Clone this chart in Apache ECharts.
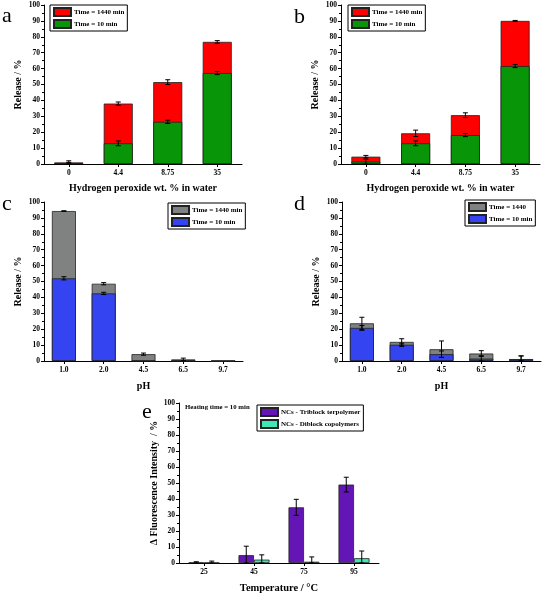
<!DOCTYPE html>
<html><head><meta charset="utf-8">
<script src="https://cdn.jsdelivr.net/npm/echarts@6/dist/echarts.min.js"></script>
<style>html,body{margin:0;padding:0;background:#fff}#c{width:544px;height:595px}</style>
</head><body><div id="c"></div>
<script>
// ---------- data ----------
const h2o2Cats = ['0', '4.4', '8.75', '35'];
const pHCats = ['1.0', '2.0', '4.5', '6.5', '9.7'];
const tempCats = ['25', '45', '75', '95'];
const yTicks = [0, 10, 20, 30, 40, 50, 60, 70, 80, 90, 100];

// panel a
const a1440 = [1, 38, 51.5, 76.8];
const a1440Err = [1, 1, 1.5, 0.8];
const a10 = [0.5, 13, 26.5, 57.2];
const a10Err = [0.5, 1.5, 1, 1];
// panel b
const b1440 = [4.6, 19.3, 30.7, 90];
const b1440Err = [0.8, 2, 1.5, 0.3];
const b10 = [1.5, 13, 18.2, 61.6];
const b10Err = [1.5, 1.5, 1, 1];
// panel c
const c1440 = [94.3, 48.6, 4.3, 1, 0];
const c1440Err = [0.2, 0.7, 0.7, 0.8, 0];
const c10 = [52, 42.5, 0, 0, 0];
const c10Err = [1, 0.7, 0, 0, 0];
// panel d
const d1440 = [23.7, 12, 7.4, 4.7, 1.2];
const d1440Err = [3.8, 2, 5.2, 1.8, 2];
const d10 = [20.8, 10.2, 4.3, 1.5, 1.2];
const d10Err = [1.5, 1, 2, 1.8, 2];
// panel e
const eTri = [0.3, 4.9, 34.8, 49];
const eTriErr = [0.5, 5.6, 5, 4.6];
const eDi = [0.2, 2.1, 0.8, 3];
const eDiErr = [1, 3, 3, 4.5];

const legendLabels = {
  a1440: 'Time = 1440 min', a10: 'Time = 10 min',
  b1440: 'Time = 1440 min', b10: 'Time = 10 min',
  c1440: 'Time = 1440 min', c10: 'Time = 10 min',
  d1440: 'Time = 1440', d10: 'Time = 10 min',
  eTri: 'NCs - Triblock terpolymer', eDi: 'NCs - Diblock copolymers'
};
const xNames = ['Hydrogen peroxide wt. % in water', 'Hydrogen peroxide wt. % in water', 'pH', 'pH', 'Temperature / °C'];
const yNames = ['Release / %', 'Release / %', 'Release / %', 'Release / %', 'Δ Fluorescence Intensity  / %'];
const panelLetters = ['a', 'b', 'c', 'd', 'e'];
const noteText = 'Heating time = 10 min';

// ---------- styling ----------
const SERIF = '"Liberation Serif", "Times New Roman", serif';
const RED = '#ff0000', GREEN = '#089608', GRAY = '#7f8280', BLUE = '#3344f0', PURPLE = '#6315b5', MINT = '#3ee8b5';

const grids = [
  {left: 44, top: 5, width: 198, height: 159},
  {left: 341, top: 5, width: 199, height: 159},
  {left: 44, top: 202, width: 199, height: 159},
  {left: 342, top: 202, width: 199, height: 159},
  {left: 179, top: 403, width: 200, height: 160}
];
const catsList = [h2o2Cats, h2o2Cats, pHCats, pHCats, tempCats];
const xGaps = [19, 19, 20, 20, 20];
const yGaps = [21, 21, 21, 21, 19];

const xAxes = catsList.map((cats, i) => ({
  gridIndex: i, type: 'category', data: cats, boundaryGap: true,
  name: xNames[i], nameLocation: 'middle', nameGap: xGaps[i],
  nameTextStyle: {fontFamily: SERIF, fontWeight: 'bold', fontSize: i === 4 ? 10.5 : 10, color: '#000'},
  axisLine: {show: true, lineStyle: {color: '#000', width: 1}},
  axisTick: {show: true, alignWithLabel: true, length: 3, lineStyle: {color: '#000'}},
  axisLabel: {fontFamily: SERIF, fontWeight: 'bold', fontSize: 7.5, color: '#000', margin: 5},
  splitLine: {show: false}
}));
const yAxes = grids.map((g, i) => ({
  gridIndex: i, type: 'value', min: yTicks[0], max: yTicks[yTicks.length - 1], interval: yTicks[1] - yTicks[0],
  name: yNames[i], nameLocation: 'middle', nameGap: yGaps[i],
  nameTextStyle: {fontFamily: SERIF, fontWeight: 'bold', fontSize: 10, color: '#000'},
  axisLine: {show: true, lineStyle: {color: '#000', width: 1}},
  axisTick: {show: true, length: 3, lineStyle: {color: '#000'}},
  minorTick: {show: true, splitNumber: 2, length: 2, lineStyle: {color: '#000'}},
  axisLabel: {fontFamily: SERIF, fontWeight: 'bold', fontSize: 7.5, color: '#000', margin: 4},
  splitLine: {show: false}
}));

function bar(idx, name, vals, color, width, gap) {
  return {
    type: 'bar', name: name, xAxisIndex: idx, yAxisIndex: idx, data: vals,
    barWidth: width, barGap: gap,
    itemStyle: {color: color, borderColor: '#222', borderWidth: 0.8},
    silent: true, animation: false
  };
}
function errSeries(idx, vals, errs, offsetFrac) {
  return {
    type: 'custom', xAxisIndex: idx, yAxisIndex: idx, z: 10, silent: true, animation: false,
    data: vals.map((v, i) => [i, v, errs[i]]),
    renderItem: function (params, api) {
      const i = api.value(0), v = api.value(1), e = api.value(2);
      if (!e) return null;
      const band = api.size([1, 0])[0];
      const top = api.coord([i, v + e]);
      const bot = api.coord([i, Math.max(0, v - e)]);
      const x = top[0] + offsetFrac * band;
      const cw = 2.5;
      const st = {stroke: '#000', lineWidth: 1};
      return {type: 'group', children: [
        {type: 'line', shape: {x1: x, y1: top[1], x2: x, y2: bot[1]}, style: st},
        {type: 'line', shape: {x1: x - cw, y1: top[1], x2: x + cw, y2: top[1]}, style: st},
        {type: 'line', shape: {x1: x - cw, y1: bot[1], x2: x + cw, y2: bot[1]}, style: st}
      ]};
    }
  };
}

const series = [
  bar(0, 'a1440', a1440, RED, 29, '-100%'), bar(0, 'a10', a10, GREEN, 29, '-100%'),
  errSeries(0, a1440, a1440Err, 0), errSeries(0, a10, a10Err, 0),
  bar(1, 'b1440', b1440, RED, 29, '-100%'), bar(1, 'b10', b10, GREEN, 29, '-100%'),
  errSeries(1, b1440, b1440Err, 0), errSeries(1, b10, b10Err, 0),
  bar(2, 'c1440', c1440, GRAY, 24, '-100%'), bar(2, 'c10', c10, BLUE, 24, '-100%'),
  errSeries(2, c1440, c1440Err, 0), errSeries(2, c10, c10Err, 0),
  bar(3, 'd1440', d1440, GRAY, 24, '-100%'), bar(3, 'd10', d10, BLUE, 24, '-100%'),
  errSeries(3, d1440, d1440Err, 0), errSeries(3, d10, d10Err, 0),
  bar(4, 'eTri', eTri, PURPLE, 15.5, '0%'), bar(4, 'eDi', eDi, MINT, 15.5, '0%'),
  errSeries(4, eTri, eTriErr, -0.155), errSeries(4, eDi, eDiErr, 0.155)
];

function legend(pos, names) {
  return Object.assign({
    data: names, orient: 'vertical', icon: 'rect',
    itemWidth: 17, itemHeight: 8, itemGap: 2, padding: [2, 3, 2, 3],
    borderColor: '#000', borderWidth: 1, backgroundColor: '#fff',
    selectedMode: false,
    formatter: n => legendLabels[n],
    textStyle: {fontFamily: SERIF, fontWeight: 'bold', fontSize: 7, color: '#000', padding: [0, 0, 0, -2]}
  }, pos);
}
const legends = [
  legend({left: 50, top: 5}, ['a1440', 'a10']),
  legend({left: 348, top: 5}, ['b1440', 'b10']),
  legend({left: 168, top: 203}, ['c1440', 'c10']),
  legend({left: 465, top: 200}, ['d1440', 'd10']),
  legend({left: 257, top: 405}, ['eTri', 'eDi'])
];

const letterPos = [[2, 27], [294, 28], [2, 215], [294, 215], [142, 423]];
const graphics = panelLetters.map((t, i) => ({
  type: 'text', x: letterPos[i][0], y: letterPos[i][1], silent: true,
  style: {text: t, fontFamily: SERIF, fontSize: 22, fill: '#000', verticalAlign: 'bottom', align: 'left'}
}));
graphics.push({
  type: 'text', x: 185, y: 407, silent: true,
  style: {text: noteText, fontFamily: SERIF, fontWeight: 'bold', fontSize: 6.8, fill: '#000', verticalAlign: 'middle'}
});

const chart = echarts.init(document.getElementById('c'), null, {renderer: 'canvas'});
chart.setOption({
  animation: false,
  backgroundColor: '#fff',
  grid: grids,
  xAxis: xAxes,
  yAxis: yAxes,
  legend: legends,
  series: series,
  graphic: graphics
});
</script></body></html>
